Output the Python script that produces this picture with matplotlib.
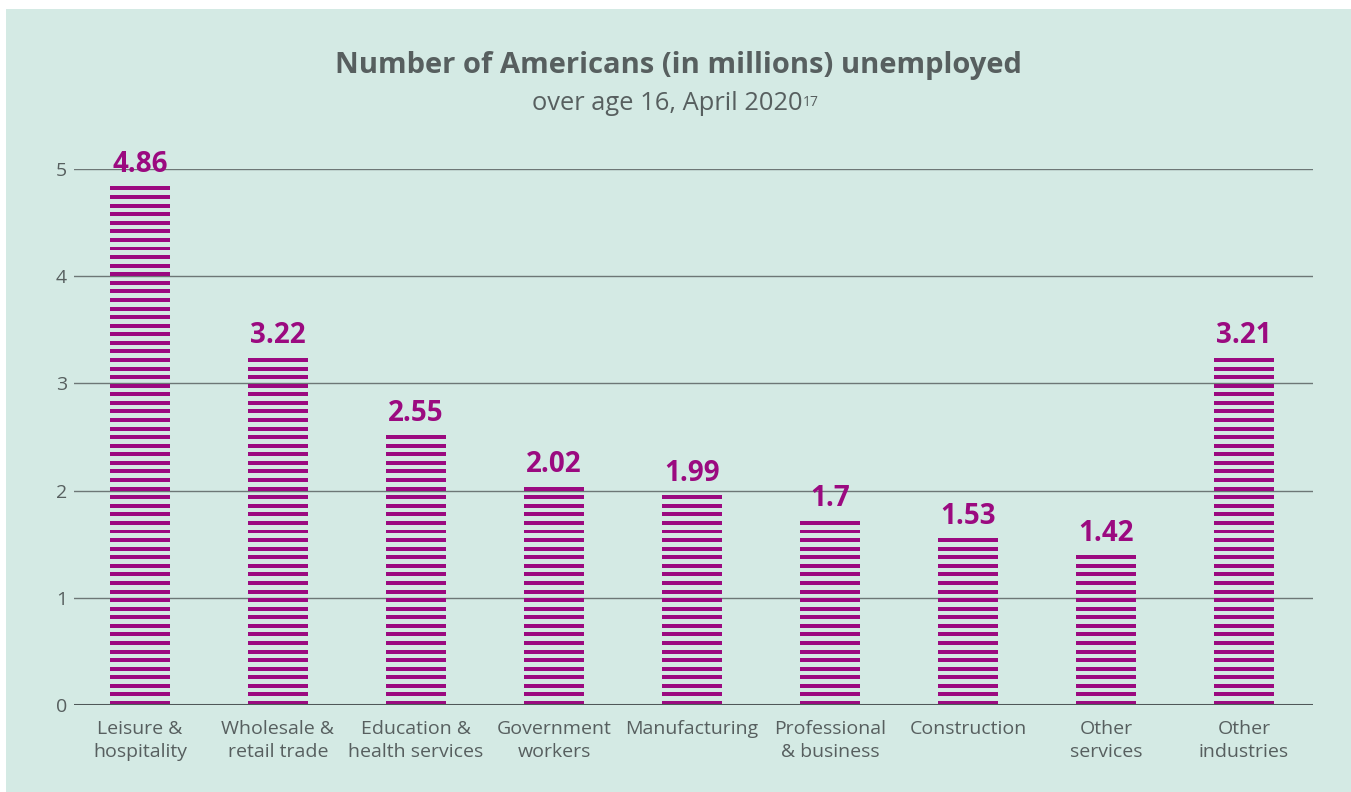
import numpy as np
import matplotlib
matplotlib.use("Agg")
import matplotlib.pyplot as plt
from matplotlib.patches import Rectangle

industries = ["Leisure &\nhospitality", "Wholesale &\nretail trade", "Education &\nhealth services",
              "Government\nworkers", "Manufacturing", "Professional\n& business",
              "Construction", "Other\nservices", "Other\nindustries"]
unemployed = [4.86, 3.22, 2.55, 2.02, 1.99, 1.70, 1.53, 1.42, 3.21]
value_labels = ["4.86", "3.22", "2.55", "2.02", "1.99", "1.7", "1.53", "1.42", "3.21"]

BG = "#d4eae4"
MAGENTA = "#9b0a80"
TEXT = "#575f5f"
STRIPE_STEP = 0.08    # stripe period in millions
STRIPE_H = 0.037      # stripe thickness in millions
BAR_W = 0.435

plt.rcParams["font.family"] = ["Open Sans", "DejaVu Sans"]

fig = plt.figure(figsize=(13.51, 7.92), dpi=100, facecolor="white")
fig.patches.append(Rectangle((6 / 1351, 0), 1, 1 - 9 / 792, transform=fig.transFigure,
                             facecolor=BG, edgecolor="none", zorder=-10))

ax = fig.add_axes([74 / 1351, 87 / 792, (1313 - 74) / 1351, (705 - 169) / 792])
ax.patch.set_alpha(0)

x = np.arange(len(industries))
for xi, v, lab in zip(x, unemployed, value_labels):
    # stacked stripes from the baseline up to the value
    bottoms = np.arange(0, v, STRIPE_STEP)
    ax.bar(np.full(len(bottoms), xi), STRIPE_H, bottom=bottoms, width=BAR_W,
           color=MAGENTA, linewidth=0, zorder=3)
    top = bottoms[-1] + STRIPE_H
    ax.annotate(lab, (xi, top), xytext=(0, 10.5), textcoords="offset points",
                ha="center", va="baseline", fontsize=20, fontweight="bold", color=MAGENTA)

ax.set_xlim(-0.478, 8.5)
ax.set_ylim(0, 5)
ax.set_yticks(range(0, 6))
ax.set_xticks(x)
ax.set_xticklabels(industries, linespacing=1.32)
ax.yaxis.grid(True, color="#6d7776", linewidth=1.0, zorder=1)
ax.set_axisbelow(True)
ax.axhline(0, color="#4f5858", linewidth=2.2, zorder=4)
for s in ax.spines.values():
    s.set_visible(False)
ax.tick_params(axis="x", length=0, pad=11, labelsize=14, labelcolor=TEXT)
ax.tick_params(axis="y", length=0, pad=5, labelsize=14, labelcolor=TEXT)

fig.text(678 / 1351, 1 - 73 / 792, "Number of Americans (in millions) unemployed",
         ha="center", va="baseline", fontsize=21, fontweight="bold", color=TEXT)
sub = fig.text(667 / 1351, 1 - 110 / 792, "over age 16, April 2020",
               ha="center", va="baseline", fontsize=18.4, color=TEXT)
ax.annotate("17", xy=(1, 1), xycoords=sub, xytext=(0.5, -3), textcoords="offset points",
            ha="left", va="top", fontsize=10, color=TEXT)

fig.savefig("out.png", dpi=100, facecolor="white")
